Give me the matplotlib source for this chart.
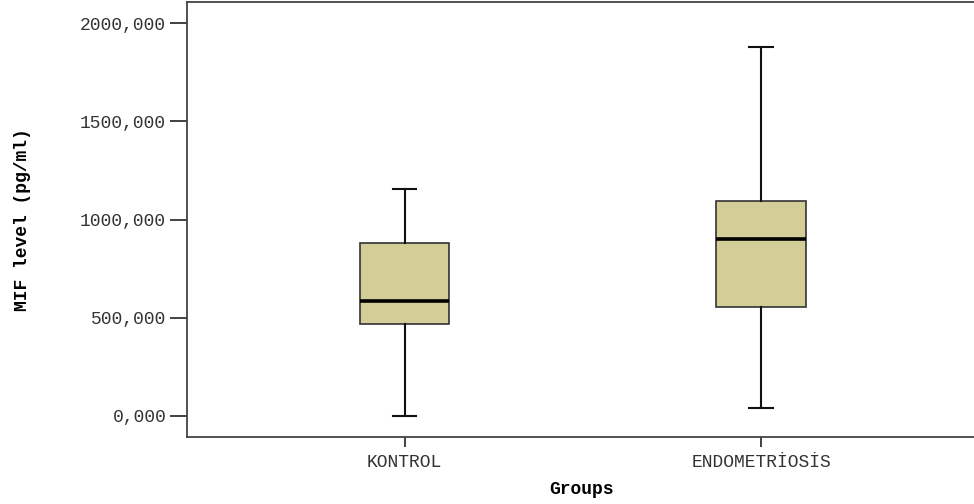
import matplotlib
matplotlib.use("Agg")
import matplotlib.pyplot as plt

plt.rcParams['font.family'] = ['Liberation Mono', 'DejaVu Sans Mono']

# box summary per group (pg/ml)
groups = ["KONTROL", "ENDOMETRİOSİS"]
whisker_low = [0, 41]
q1 = [468, 555]
median = [585, 901]
q3 = [880, 1094]
whisker_high = [1155, 1878]

yticks = [0, 500, 1000, 1500, 2000]
ytick_labels = ["0,000", "500,000", "1000,000", "1500,000", "2000,000"]

stats = []
for i, g in enumerate(groups):
    stats.append({"label": g, "whislo": whisker_low[i], "q1": q1[i], "med": median[i],
                  "q3": q3[i], "whishi": whisker_high[i], "fliers": []})

fig = plt.figure(figsize=(9.74, 5.04), dpi=100)
ax = fig.add_axes([187 / 974, 67 / 504, 788 / 974, 435 / 504])

ax.bxp(stats, positions=[0, 1], widths=0.25, patch_artist=True, showfliers=False,
       boxprops=dict(facecolor="#d3cd98", edgecolor="#333333", linewidth=1.2),
       medianprops=dict(color="black", linewidth=2.6),
       whiskerprops=dict(color="#111111", linewidth=1.5),
       capprops=dict(color="#111111", linewidth=1.5),
       capwidths=0.065)

ax.set_xlim(-0.61, 1.60)
ax.set_ylim(-107, 2107)
ax.set_yticks(yticks)
ax.set_yticklabels(ytick_labels, fontsize=13, color="#333333")
ax.set_xticks([0, 1])
ax.set_xticklabels(groups, fontsize=13, color="#333333")
ax.tick_params(axis="y", length=12, width=1.3, color="#333333", pad=3)
ax.tick_params(axis="x", length=7, width=1.3, color="#333333", pad=5)

for s in ax.spines.values():
    s.set_color("#444444")
    s.set_linewidth(1.3)

ax.set_ylabel("MIF level (pg/ml)", fontsize=13, fontweight="bold")
ax.set_xlabel("Groups", fontsize=13, fontweight="bold")
ax.yaxis.set_label_coords(-0.209, 0.5)
ax.yaxis.label.set_va("center")
ax.xaxis.set_label_coords(0.5, -0.12)
ax.xaxis.label.set_va("center")

fig.savefig("out.png", dpi=100)
